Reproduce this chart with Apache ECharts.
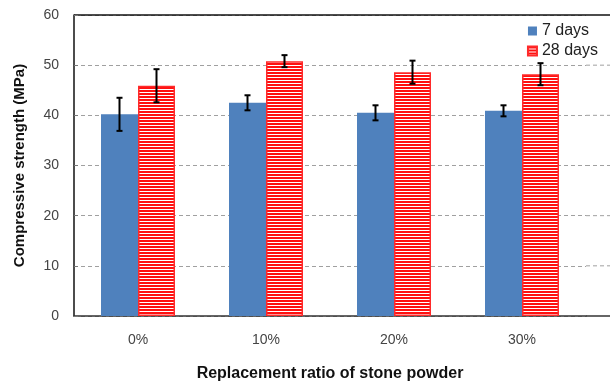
<!DOCTYPE html>
<html><head><meta charset="utf-8">
<script src="https://cdn.jsdelivr.net/npm/echarts@6/dist/echarts.min.js"></script>
<style>html,body{margin:0;padding:0;background:#fff}#c{width:610px;height:387px}</style>
</head><body><div id="c"></div>
<script>
var categories = ['0%', '10%', '20%', '30%'];
var days7 = [40.2, 42.5, 40.5, 40.9];
var days7Err = [3.3, 1.5, 1.5, 1.1];
var days28 = [45.9, 50.8, 48.6, 48.2];
var days28Err = [3.3, 1.2, 2.3, 2.2];
var yTicks = [0, 10, 20, 30, 40, 50, 60];

var BW = 37;
var pc = document.createElement('canvas');
pc.width = 4; pc.height = 3;
var pctx = pc.getContext('2d');
pctx.fillStyle = '#ffffff'; pctx.fillRect(0, 0, 4, 3);
pctx.fillStyle = '#ff1010'; pctx.fillRect(0, 0, 4, 2);
var stripe = { image: pc, repeat: 'repeat' };

function errSeries(vals, errs, off) {
  return {
    type: 'custom', silent: true, z: 10,
    data: vals.map(function (v, i) { return [i, v, errs[i]]; }),
    renderItem: function (params, api) {
      var i = api.value(0), v = api.value(1), e = api.value(2);
      var hi = api.coord([i, v + e]), lo = api.coord([i, v - e]);
      var x = hi[0] + off;
      var st = { stroke: '#000', lineWidth: 2 };
      return { type: 'group', children: [
        { type: 'line', shape: { x1: x, y1: hi[1], x2: x, y2: lo[1] }, style: st },
        { type: 'line', shape: { x1: x - 3, y1: hi[1], x2: x + 3, y2: hi[1] }, style: st },
        { type: 'line', shape: { x1: x - 3, y1: lo[1], x2: x + 3, y2: lo[1] }, style: st }
      ]};
    }
  };
}

var chart = echarts.init(document.getElementById('c'));
var font = 'Liberation Sans, Arial, sans-serif';
chart.setOption({
  animation: false,
  textStyle: { fontFamily: font },
  grid: { left: 74, right: 24, top: 15, bottom: 71 },
  legend: {
    orient: 'vertical', right: 7, top: 18, itemGap: 4,
    itemWidth: 9, itemHeight: 9, icon: 'rect',
    textStyle: { fontSize: 16, color: '#222', fontFamily: font },
    data: ['7 days', '28 days']
  },
  xAxis: {
    type: 'category', data: categories,
    name: 'Replacement ratio of stone powder', nameLocation: 'middle', nameGap: 50,
    nameTextStyle: { fontSize: 16, fontWeight: 'bold', color: '#111', fontFamily: font },
    axisLine: { lineStyle: { color: '#333', width: 1.5 } },
    axisTick: { inside: true, length: 4, lineStyle: { color: '#333' } },
    axisLabel: { fontSize: 14, color: '#444', margin: 17 }
  },
  yAxis: {
    type: 'value', min: 0, max: 60, interval: 10,
    name: 'Compressive strength (MPa)', nameLocation: 'middle', nameGap: 47,
    nameTextStyle: { fontSize: 15, fontWeight: 'bold', color: '#111', fontFamily: font },
    axisLine: { show: true, lineStyle: { color: '#111', width: 1.5 } },
    axisTick: { show: true, inside: true, length: 4, lineStyle: { color: '#777' } },
    axisLabel: { fontSize: 14, color: '#444', margin: 15,
      formatter: function (v) { return yTicks.indexOf(v) >= 0 ? String(v) : ''; } },
    splitLine: { lineStyle: { type: [4, 3], color: '#a0a0a0', width: 1 } }
  },
  series: [
    { name: '7 days', type: 'bar', data: days7, barWidth: BW, barGap: '0%',
      itemStyle: { color: '#4f81bd' } },
    { name: '28 days', type: 'bar', data: days28, barWidth: BW, barGap: '0%',
      itemStyle: { color: stripe, borderColor: '#ff2a2a', borderWidth: 1.5 } },
    errSeries(days7, days7Err, -BW / 2),
    errSeries(days28, days28Err, BW / 2)
  ]
});

// extend grid lines / frame to the right edge, positioned via the axis scale
var W = chart.getWidth();
var gx = chart.convertToPixel({ xAxisIndex: 0 }, categories.length - 1) + 64;
var els = [];
yTicks.forEach(function (t) {
  var y = chart.convertToPixel({ yAxisIndex: 0 }, t);
  var top = t === yTicks[yTicks.length - 1], bot = t === 0;
  els.push({ type: 'line', shape: { x1: top ? chart.convertToPixel({ xAxisIndex: 0 }, 0) - 64 : gx, y1: y, x2: W, y2: y },
    style: top ? { stroke: '#111', lineWidth: 1.5 } : bot ? { stroke: '#333', lineWidth: 1.5 } : { stroke: '#a0a0a0', lineWidth: 1, lineDash: [4, 3] },
    z: 0 });
});
chart.setOption({ graphic: els });
</script></body></html>
